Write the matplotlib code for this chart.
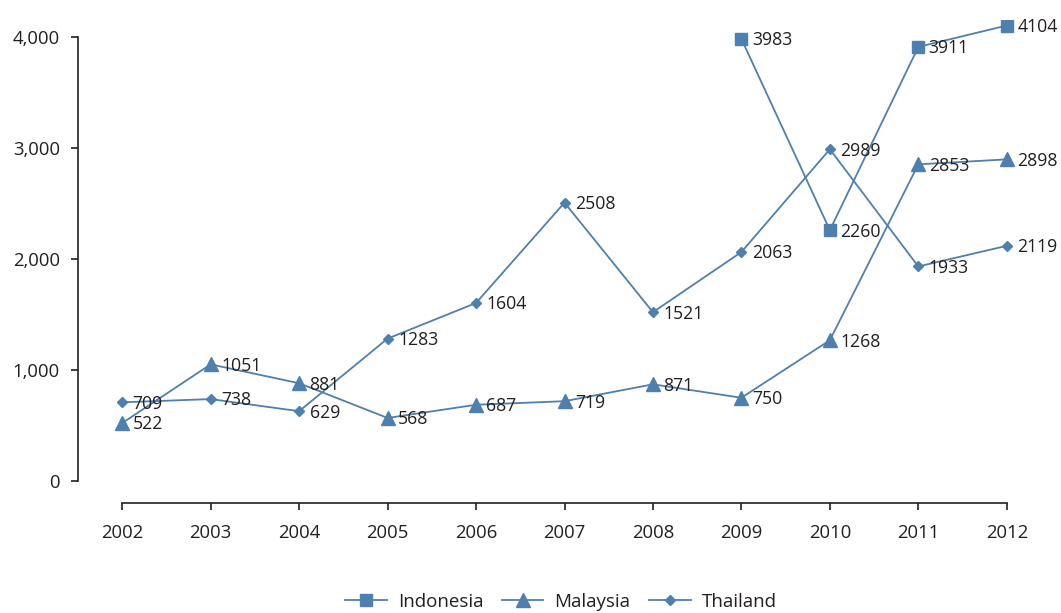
import matplotlib
matplotlib.use("Agg")
import matplotlib.pyplot as plt
import numpy as np

years = [2002, 2003, 2004, 2005, 2006, 2007, 2008, 2009, 2010, 2011, 2012]
indonesia = [np.nan, np.nan, np.nan, np.nan, np.nan, np.nan, np.nan, 3983, 2260, 3911, 4104]
malaysia = [522, 1051, 881, 568, 687, 719, 871, 750, 1268, 2853, 2898]
thailand = [709, 738, 629, 1283, 1604, 2508, 1521, 2063, 2989, 1933, 2119]
yticks = [0, 1000, 2000, 3000, 4000]
ytick_labels = ["0", "1,000", "2,000", "3,000", "4,000"]

plt.rcParams['font.family'] = ['Open Sans', 'DejaVu Sans']
color = '#4F7FAD'
textc = '#231F20'

fig = plt.figure(figsize=(10.61, 6.13), dpi=100)
ax = fig.add_axes([78/1061, 132/613, (1051-78)/1061, 460.6/613])

series = [("Indonesia", indonesia, 's', 8.5),
          ("Malaysia", malaysia, '^', 10),
          ("Thailand", thailand, 'D', 5.5)]
for name, vals, mk, ms in series:
    ax.plot(years, vals, color=color, lw=1.3, marker=mk, markersize=ms,
            markeredgecolor=color, markerfacecolor=color, label=name)
    for x, v in zip(years, vals):
        if not np.isnan(v):
            ax.annotate(f"{int(v)}", (x, v), xytext=(7.5, -1), textcoords='offset points',
                        ha='left', va='center', fontsize=12.7, color=textc)

ax.set_xlim(2001.5, 2012.5)
ax.set_ylim(0, 4150)
ax.set_xticks(years)
ax.set_xticklabels([str(y) for y in years])
ax.set_yticks(yticks)
ax.set_yticklabels(ytick_labels)

for s in ['top', 'right']:
    ax.spines[s].set_visible(False)
ax.spines['bottom'].set_position(('outward', 16))
ax.spines['bottom'].set_bounds(2002, 2012)
ax.spines['left'].set_bounds(0, 4000)
for s in ['bottom', 'left']:
    ax.spines[s].set_color('#231F20')
    ax.spines[s].set_linewidth(1.2)
ax.tick_params(axis='both', colors='#231F20', labelcolor=textc, labelsize=13.3,
               direction='out', length=5, width=1.2)
ax.tick_params(axis='x', pad=10)
ax.tick_params(axis='y', pad=8)

fig.legend(loc='center', bbox_to_anchor=(561/1061, 11/613), ncol=3, frameon=False,
           fontsize=13.5, labelcolor=textc, handlelength=2.2, columnspacing=1.0,
           handletextpad=0.6)

fig.savefig("out.png", dpi=100)
